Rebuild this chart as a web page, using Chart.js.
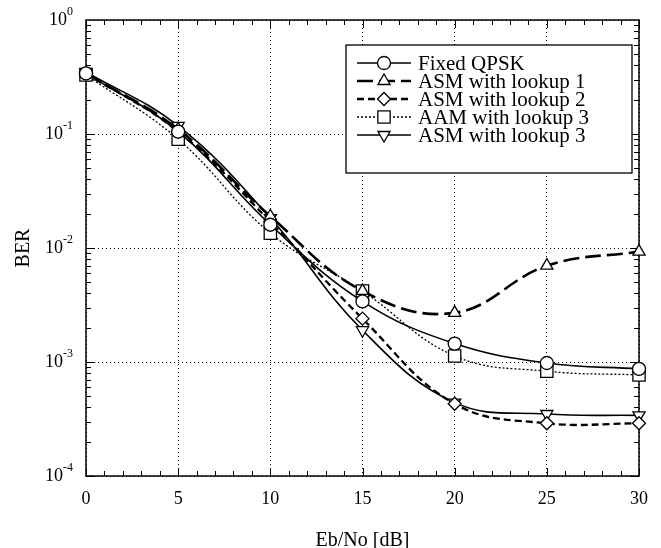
<!DOCTYPE html>
<html>
<head>
<meta charset="utf-8">
<script src="https://cdn.jsdelivr.net/npm/chart.js@4.4.1/dist/chart.umd.min.js"></script>
<style>
  html, body { margin: 0; padding: 0; background: #fff; }
  #wrap { width: 661px; height: 548px; position: relative; }
</style>
</head>
<body>
<div id="wrap"><canvas id="berChart" width="661" height="548"></canvas></div>
<script>
// Eb/No points (dB)
const ebno = [0, 5, 10, 15, 20, 25, 30];

// BER values
const fixedQpsk = [0.34, 0.105, 0.016, 0.0034, 0.00145, 0.00098, 0.00087];
const asmLookup1 = [0.34, 0.11, 0.019, 0.0042, 0.0027, 0.0070, 0.0093];
const asmLookup2 = [0.34, 0.105, 0.017, 0.0024, 0.00043, 0.00029, 0.00029];
const aamLookup3 = [0.33, 0.09, 0.0135, 0.0042, 0.00113, 0.00083, 0.00077];
const asmLookup3 = [0.35, 0.118, 0.0183, 0.0019, 0.00044, 0.00035, 0.00034];

const seriesNames = ['Fixed QPSK', 'ASM with lookup 1', 'ASM with lookup 2', 'AAM with lookup 3', 'ASM with lookup 3'];

// axis ticks
const xTicks = [0, 5, 10, 15, 20, 25, 30];
const yTicks = [1e-4, 1e-3, 1e-2, 1e-1, 1];
const yExponents = ['-4', '-3', '-2', '-1', '0'];

const SERIF = '"Liberation Serif", "DejaVu Serif", serif';

function toPoints(vals) {
    return ebno.map((x, i) => ({ x: x, y: vals[i] }));
}

function ds(label, vals, opt) {
    return Object.assign({
        label: label,
        data: toPoints(vals),
        borderColor: '#000',
        backgroundColor: '#fff',
        pointBackgroundColor: '#fff',
        pointBorderColor: '#000',
        pointBorderWidth: 1.3,
        tension: 0.4,
        clip: false,
        fill: false
    }, opt);
}

const datasets = [
    ds(seriesNames[0], fixedQpsk, { borderWidth: 1.6, pointStyle: 'circle', pointRadius: 6.5 }),
    ds(seriesNames[1], asmLookup1, { borderWidth: 2.6, borderDash: [16, 6], pointStyle: 'triangle', pointRadius: 7 }),
    ds(seriesNames[2], asmLookup2, { borderWidth: 2.3, borderDash: [7, 4], pointStyle: 'rectRot', pointRadius: 6.5 }),
    ds(seriesNames[3], aamLookup3, { borderWidth: 1.3, borderDash: [2, 2], pointStyle: 'rect', pointRadius: 8.7 }),
    ds(seriesNames[4], asmLookup3, { borderWidth: 1.6, pointStyle: 'triangle', pointRotation: 180, pointRadius: 7 })
];

// frame, minor ticks, y labels, axis titles, legend
const decorPlugin = {
    id: 'decor',
    beforeDatasetsDraw(chart) {
        const ctx = chart.ctx;
        const a = chart.chartArea;
        const xs = chart.scales.x, ys = chart.scales.y;
        ctx.save();
        ctx.strokeStyle = '#000';
        ctx.lineWidth = 1.5;
        ctx.strokeRect(a.left, a.top, a.right - a.left, a.bottom - a.top);

        ctx.lineWidth = 1;
        ctx.beginPath();
        for (let v = 0; v <= 30; v++) {
            const px = Math.round(xs.getPixelForValue(v)) + 0.5;
            const len = (v % 5 === 0) ? 8 : 5;
            ctx.moveTo(px, a.bottom); ctx.lineTo(px, a.bottom - len);
            ctx.moveTo(px, a.top); ctx.lineTo(px, a.top + len);
        }
        for (let e = -4; e < 0; e++) {
            for (let m = 1; m <= 9; m++) {
                const py = Math.round(ys.getPixelForValue(m * Math.pow(10, e))) + 0.5;
                const len = m === 1 ? 9 : 5;
                ctx.moveTo(a.left, py); ctx.lineTo(a.left + len, py);
                ctx.moveTo(a.right, py); ctx.lineTo(a.right - len, py);
            }
        }
        ctx.stroke();
        ctx.restore();
    },
    afterDraw(chart) {
        const ctx = chart.ctx;
        const a = chart.chartArea;
        const ys = chart.scales.y;
        ctx.save();
        ctx.fillStyle = '#000';

        // y tick labels with superscripts
        yTicks.forEach((v, i) => {
            const py = ys.getPixelForValue(v);
            const expRight = a.left - 13;
            ctx.font = '12px ' + SERIF;
            ctx.textAlign = 'right';
            ctx.textBaseline = 'alphabetic';
            const ew = ctx.measureText(yExponents[i]).width;
            ctx.fillText(yExponents[i], expRight, py - 5);
            ctx.font = '18px ' + SERIF;
            ctx.fillText('10', expRight - ew, py + 5);
        });

        // axis titles
        ctx.font = '20px ' + SERIF;
        ctx.textAlign = 'center';
        ctx.textBaseline = 'alphabetic';
        ctx.fillText('Eb/No [dB]', (a.left + a.right) / 2, 546);
        ctx.save();
        ctx.translate(29, (a.top + a.bottom) / 2);
        ctx.rotate(-Math.PI / 2);
        ctx.fillText('BER', 0, 0);
        ctx.restore();

        // legend box
        const bx = 346, by = 45, bw = 286, bh = 128;
        ctx.fillStyle = '#fff';
        ctx.fillRect(bx, by, bw, bh);
        ctx.strokeStyle = '#000';
        ctx.lineWidth = 1.3;
        ctx.strokeRect(bx, by, bw, bh);

        chart.data.datasets.forEach((d, i) => {
            const cy = 63 + i * 18;
            ctx.save();
            ctx.strokeStyle = '#000';
            ctx.lineWidth = d.borderWidth;
            ctx.setLineDash(d.borderDash || []);
            ctx.beginPath();
            ctx.moveTo(357, cy);
            ctx.lineTo(411, cy);
            ctx.stroke();
            ctx.setLineDash([]);
            ctx.fillStyle = '#fff';
            ctx.lineWidth = d.pointBorderWidth;
            Chart.helpers.drawPoint(ctx, {
                pointStyle: d.pointStyle,
                radius: d.pointRadius,
                rotation: d.pointRotation || 0,
                borderWidth: d.pointBorderWidth
            }, 384, cy);
            ctx.restore();
            ctx.fillStyle = '#000';
            ctx.font = '21px ' + SERIF;
            ctx.textAlign = 'left';
            ctx.textBaseline = 'middle';
            ctx.fillText(d.label, 418, cy + 1);
        });
        ctx.restore();
    }
};

const ctx = document.getElementById('berChart').getContext('2d');
const berChart = new Chart(ctx, {
    type: 'line',
    data: { datasets: datasets },
    options: {
        responsive: false,
        animation: false,
        layout: { padding: { left: 0, right: 22, top: 20, bottom: 0 } },
        plugins: { legend: { display: false }, tooltip: { enabled: false } },
        scales: {
            x: {
                type: 'linear',
                min: 0, max: 30,
                afterBuildTicks: s => { s.ticks = xTicks.map(v => ({ value: v })); },
                afterFit: s => { s.height = 72; },
                grid: { color: '#000', lineWidth: 1, drawTicks: false },
                border: { display: false, dash: [1, 3] },
                ticks: { color: '#000', font: { family: SERIF, size: 18 }, padding: 12, maxRotation: 0 }
            },
            y: {
                type: 'logarithmic',
                min: 1e-4, max: 1,
                afterBuildTicks: s => { s.ticks = yTicks.map(v => ({ value: v })); },
                afterFit: s => { s.width = 86; },
                grid: { color: '#000', lineWidth: 1, drawTicks: false },
                border: { display: false, dash: [1, 3] },
                ticks: { display: false }
            }
        }
    },
    plugins: [decorPlugin]
});
</script>
</body>
</html>
